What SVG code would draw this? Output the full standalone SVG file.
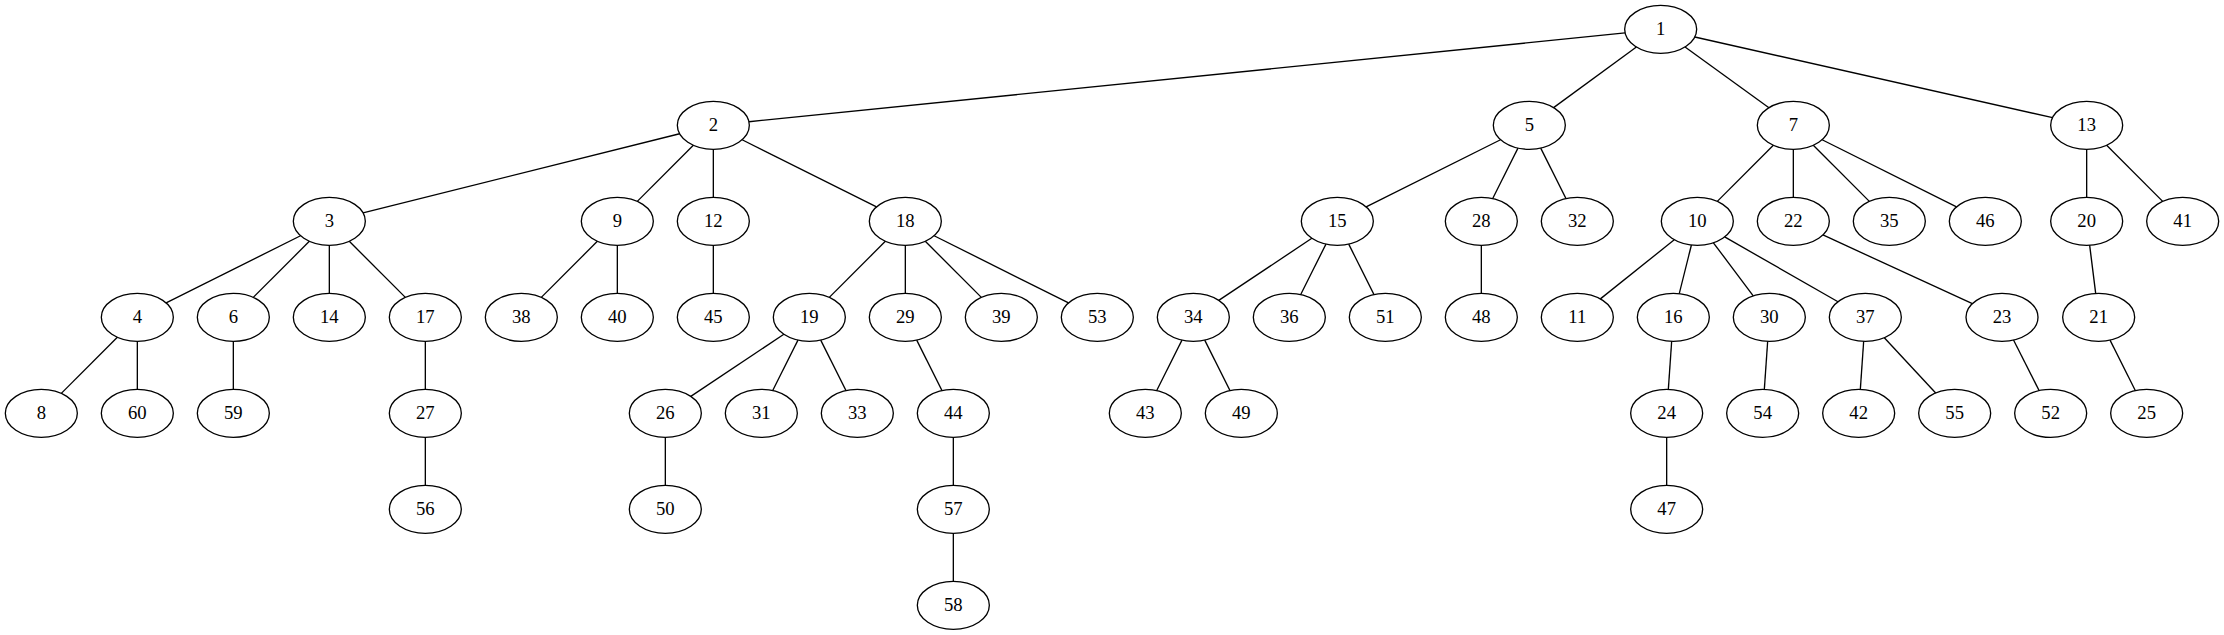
<svg xmlns="http://www.w3.org/2000/svg" width="2224" height="635" viewBox="0 0 2224 635">
<style>
.n ellipse{fill:none;stroke:#000;stroke-width:1.33}
.n text{font-family:"Liberation Serif","Times New Roman",serif;font-size:18.67px;text-anchor:middle;fill:#000}
#edges line{stroke:#000;stroke-width:1.33;fill:none}
</style>
<rect x="0" y="0" width="2224" height="635" fill="#fff"/>
<g id="edges">
<line x1="1625.08" y1="32.94" x2="748.92" y2="121.73"/>
<line x1="1636.41" y1="47.06" x2="1553.59" y2="107.6"/>
<line x1="1685.06" y1="46.98" x2="1768.94" y2="107.68"/>
<line x1="1694.77" y1="37.02" x2="2052.57" y2="117.64"/>
<line x1="679.62" y1="133.76" x2="363.04" y2="212.9"/>
<line x1="693.36" y1="145.3" x2="637.3" y2="201.36"/>
<line x1="713.33" y1="149.33" x2="713.33" y2="197.33"/>
<line x1="742.13" y1="139.73" x2="876.53" y2="206.93"/>
<line x1="300.53" y1="235.73" x2="166.13" y2="302.93"/>
<line x1="309.36" y1="241.3" x2="253.3" y2="297.36"/>
<line x1="329.33" y1="245.33" x2="329.33" y2="293.33"/>
<line x1="349.3" y1="241.3" x2="405.36" y2="297.36"/>
<line x1="117.36" y1="337.3" x2="61.3" y2="393.36"/>
<line x1="137.33" y1="341.33" x2="137.33" y2="389.33"/>
<line x1="233.33" y1="341.33" x2="233.33" y2="389.33"/>
<line x1="425.33" y1="341.33" x2="425.33" y2="389.33"/>
<line x1="425.33" y1="437.33" x2="425.33" y2="485.33"/>
<line x1="597.36" y1="241.3" x2="541.3" y2="297.36"/>
<line x1="617.33" y1="245.33" x2="617.33" y2="293.33"/>
<line x1="713.33" y1="245.33" x2="713.33" y2="293.33"/>
<line x1="885.36" y1="241.3" x2="829.3" y2="297.36"/>
<line x1="905.33" y1="245.33" x2="905.33" y2="293.33"/>
<line x1="925.3" y1="241.3" x2="981.36" y2="297.36"/>
<line x1="934.13" y1="235.73" x2="1068.53" y2="302.93"/>
<line x1="783.87" y1="334.3" x2="690.79" y2="396.36"/>
<line x1="797.95" y1="340.1" x2="772.71" y2="390.56"/>
<line x1="820.71" y1="340.1" x2="845.95" y2="390.56"/>
<line x1="665.33" y1="437.33" x2="665.33" y2="485.33"/>
<line x1="916.71" y1="340.1" x2="941.95" y2="390.56"/>
<line x1="953.33" y1="437.33" x2="953.33" y2="485.33"/>
<line x1="953.33" y1="533.33" x2="953.33" y2="581.33"/>
<line x1="1500.53" y1="139.73" x2="1366.13" y2="206.93"/>
<line x1="1517.95" y1="148.1" x2="1492.71" y2="198.56"/>
<line x1="1540.71" y1="148.1" x2="1565.95" y2="198.56"/>
<line x1="1311.87" y1="238.3" x2="1218.79" y2="300.36"/>
<line x1="1325.95" y1="244.1" x2="1300.71" y2="294.56"/>
<line x1="1348.71" y1="244.1" x2="1373.95" y2="294.56"/>
<line x1="1181.95" y1="340.1" x2="1156.71" y2="390.56"/>
<line x1="1204.71" y1="340.1" x2="1229.95" y2="390.56"/>
<line x1="1481.33" y1="245.33" x2="1481.33" y2="293.33"/>
<line x1="1773.36" y1="145.3" x2="1717.3" y2="201.36"/>
<line x1="1793.33" y1="149.33" x2="1793.33" y2="197.33"/>
<line x1="1813.3" y1="145.3" x2="1869.36" y2="201.36"/>
<line x1="1822.13" y1="139.73" x2="1956.53" y2="206.93"/>
<line x1="1674.28" y1="239.77" x2="1600.38" y2="298.89"/>
<line x1="1691.41" y1="245" x2="1679.25" y2="293.66"/>
<line x1="1713.43" y1="242.8" x2="1753.23" y2="295.86"/>
<line x1="1724.66" y1="236.95" x2="1838" y2="301.71"/>
<line x1="1671.67" y1="341.3" x2="1668.33" y2="389.36"/>
<line x1="1666.67" y1="437.33" x2="1666.67" y2="485.33"/>
<line x1="1767.67" y1="341.3" x2="1764.33" y2="389.36"/>
<line x1="1863.67" y1="341.3" x2="1860.33" y2="389.36"/>
<line x1="1884.31" y1="337.72" x2="1935.69" y2="392.94"/>
<line x1="1822.96" y1="234.96" x2="1972.37" y2="303.7"/>
<line x1="2013.53" y1="340.07" x2="2039.14" y2="390.59"/>
<line x1="2086.67" y1="149.33" x2="2086.67" y2="197.33"/>
<line x1="2106.64" y1="145.3" x2="2162.7" y2="201.36"/>
<line x1="2089.66" y1="245.25" x2="2095.68" y2="293.41"/>
<line x1="2110.05" y1="340.1" x2="2135.29" y2="390.56"/>
</g>
<g id="node1" class="n"><ellipse cx="1660.67" cy="29.33" rx="36" ry="24"/><text x="1660.67" y="34.93">1</text></g>
<g id="node2" class="n"><ellipse cx="713.33" cy="125.33" rx="36" ry="24"/><text x="713.33" y="130.93">2</text></g>
<g id="node5" class="n"><ellipse cx="1529.33" cy="125.33" rx="36" ry="24"/><text x="1529.33" y="130.93">5</text></g>
<g id="node7" class="n"><ellipse cx="1793.33" cy="125.33" rx="36" ry="24"/><text x="1793.33" y="130.93">7</text></g>
<g id="node13" class="n"><ellipse cx="2086.67" cy="125.33" rx="36" ry="24"/><text x="2086.67" y="130.93">13</text></g>
<g id="node3" class="n"><ellipse cx="329.33" cy="221.33" rx="36" ry="24"/><text x="329.33" y="226.93">3</text></g>
<g id="node9" class="n"><ellipse cx="617.33" cy="221.33" rx="36" ry="24"/><text x="617.33" y="226.93">9</text></g>
<g id="node12" class="n"><ellipse cx="713.33" cy="221.33" rx="36" ry="24"/><text x="713.33" y="226.93">12</text></g>
<g id="node18" class="n"><ellipse cx="905.33" cy="221.33" rx="36" ry="24"/><text x="905.33" y="226.93">18</text></g>
<g id="node15" class="n"><ellipse cx="1337.33" cy="221.33" rx="36" ry="24"/><text x="1337.33" y="226.93">15</text></g>
<g id="node28" class="n"><ellipse cx="1481.33" cy="221.33" rx="36" ry="24"/><text x="1481.33" y="226.93">28</text></g>
<g id="node32" class="n"><ellipse cx="1577.33" cy="221.33" rx="36" ry="24"/><text x="1577.33" y="226.93">32</text></g>
<g id="node10" class="n"><ellipse cx="1697.33" cy="221.33" rx="36" ry="24"/><text x="1697.33" y="226.93">10</text></g>
<g id="node22" class="n"><ellipse cx="1793.33" cy="221.33" rx="36" ry="24"/><text x="1793.33" y="226.93">22</text></g>
<g id="node35" class="n"><ellipse cx="1889.33" cy="221.33" rx="36" ry="24"/><text x="1889.33" y="226.93">35</text></g>
<g id="node46" class="n"><ellipse cx="1985.33" cy="221.33" rx="36" ry="24"/><text x="1985.33" y="226.93">46</text></g>
<g id="node20" class="n"><ellipse cx="2086.67" cy="221.33" rx="36" ry="24"/><text x="2086.67" y="226.93">20</text></g>
<g id="node41" class="n"><ellipse cx="2182.67" cy="221.33" rx="36" ry="24"/><text x="2182.67" y="226.93">41</text></g>
<g id="node4" class="n"><ellipse cx="137.33" cy="317.33" rx="36" ry="24"/><text x="137.33" y="322.93">4</text></g>
<g id="node6" class="n"><ellipse cx="233.33" cy="317.33" rx="36" ry="24"/><text x="233.33" y="322.93">6</text></g>
<g id="node14" class="n"><ellipse cx="329.33" cy="317.33" rx="36" ry="24"/><text x="329.33" y="322.93">14</text></g>
<g id="node17" class="n"><ellipse cx="425.33" cy="317.33" rx="36" ry="24"/><text x="425.33" y="322.93">17</text></g>
<g id="node38" class="n"><ellipse cx="521.33" cy="317.33" rx="36" ry="24"/><text x="521.33" y="322.93">38</text></g>
<g id="node40" class="n"><ellipse cx="617.33" cy="317.33" rx="36" ry="24"/><text x="617.33" y="322.93">40</text></g>
<g id="node45" class="n"><ellipse cx="713.33" cy="317.33" rx="36" ry="24"/><text x="713.33" y="322.93">45</text></g>
<g id="node19" class="n"><ellipse cx="809.33" cy="317.33" rx="36" ry="24"/><text x="809.33" y="322.93">19</text></g>
<g id="node29" class="n"><ellipse cx="905.33" cy="317.33" rx="36" ry="24"/><text x="905.33" y="322.93">29</text></g>
<g id="node39" class="n"><ellipse cx="1001.33" cy="317.33" rx="36" ry="24"/><text x="1001.33" y="322.93">39</text></g>
<g id="node53" class="n"><ellipse cx="1097.33" cy="317.33" rx="36" ry="24"/><text x="1097.33" y="322.93">53</text></g>
<g id="node34" class="n"><ellipse cx="1193.33" cy="317.33" rx="36" ry="24"/><text x="1193.33" y="322.93">34</text></g>
<g id="node36" class="n"><ellipse cx="1289.33" cy="317.33" rx="36" ry="24"/><text x="1289.33" y="322.93">36</text></g>
<g id="node51" class="n"><ellipse cx="1385.33" cy="317.33" rx="36" ry="24"/><text x="1385.33" y="322.93">51</text></g>
<g id="node48" class="n"><ellipse cx="1481.33" cy="317.33" rx="36" ry="24"/><text x="1481.33" y="322.93">48</text></g>
<g id="node11" class="n"><ellipse cx="1577.33" cy="317.33" rx="36" ry="24"/><text x="1577.33" y="322.93">11</text></g>
<g id="node16" class="n"><ellipse cx="1673.33" cy="317.33" rx="36" ry="24"/><text x="1673.33" y="322.93">16</text></g>
<g id="node30" class="n"><ellipse cx="1769.33" cy="317.33" rx="36" ry="24"/><text x="1769.33" y="322.93">30</text></g>
<g id="node37" class="n"><ellipse cx="1865.33" cy="317.33" rx="36" ry="24"/><text x="1865.33" y="322.93">37</text></g>
<g id="node23" class="n"><ellipse cx="2002" cy="317.33" rx="36" ry="24"/><text x="2002" y="322.93">23</text></g>
<g id="node21" class="n"><ellipse cx="2098.67" cy="317.33" rx="36" ry="24"/><text x="2098.67" y="322.93">21</text></g>
<g id="node8" class="n"><ellipse cx="41.33" cy="413.33" rx="36" ry="24"/><text x="41.33" y="418.93">8</text></g>
<g id="node60" class="n"><ellipse cx="137.33" cy="413.33" rx="36" ry="24"/><text x="137.33" y="418.93">60</text></g>
<g id="node59" class="n"><ellipse cx="233.33" cy="413.33" rx="36" ry="24"/><text x="233.33" y="418.93">59</text></g>
<g id="node27" class="n"><ellipse cx="425.33" cy="413.33" rx="36" ry="24"/><text x="425.33" y="418.93">27</text></g>
<g id="node26" class="n"><ellipse cx="665.33" cy="413.33" rx="36" ry="24"/><text x="665.33" y="418.93">26</text></g>
<g id="node31" class="n"><ellipse cx="761.33" cy="413.33" rx="36" ry="24"/><text x="761.33" y="418.93">31</text></g>
<g id="node33" class="n"><ellipse cx="857.33" cy="413.33" rx="36" ry="24"/><text x="857.33" y="418.93">33</text></g>
<g id="node44" class="n"><ellipse cx="953.33" cy="413.33" rx="36" ry="24"/><text x="953.33" y="418.93">44</text></g>
<g id="node43" class="n"><ellipse cx="1145.33" cy="413.33" rx="36" ry="24"/><text x="1145.33" y="418.93">43</text></g>
<g id="node49" class="n"><ellipse cx="1241.33" cy="413.33" rx="36" ry="24"/><text x="1241.33" y="418.93">49</text></g>
<g id="node24" class="n"><ellipse cx="1666.67" cy="413.33" rx="36" ry="24"/><text x="1666.67" y="418.93">24</text></g>
<g id="node54" class="n"><ellipse cx="1762.67" cy="413.33" rx="36" ry="24"/><text x="1762.67" y="418.93">54</text></g>
<g id="node42" class="n"><ellipse cx="1858.67" cy="413.33" rx="36" ry="24"/><text x="1858.67" y="418.93">42</text></g>
<g id="node55" class="n"><ellipse cx="1954.67" cy="413.33" rx="36" ry="24"/><text x="1954.67" y="418.93">55</text></g>
<g id="node52" class="n"><ellipse cx="2050.67" cy="413.33" rx="36" ry="24"/><text x="2050.67" y="418.93">52</text></g>
<g id="node25" class="n"><ellipse cx="2146.67" cy="413.33" rx="36" ry="24"/><text x="2146.67" y="418.93">25</text></g>
<g id="node56" class="n"><ellipse cx="425.33" cy="509.33" rx="36" ry="24"/><text x="425.33" y="514.93">56</text></g>
<g id="node50" class="n"><ellipse cx="665.33" cy="509.33" rx="36" ry="24"/><text x="665.33" y="514.93">50</text></g>
<g id="node57" class="n"><ellipse cx="953.33" cy="509.33" rx="36" ry="24"/><text x="953.33" y="514.93">57</text></g>
<g id="node47" class="n"><ellipse cx="1666.67" cy="509.33" rx="36" ry="24"/><text x="1666.67" y="514.93">47</text></g>
<g id="node58" class="n"><ellipse cx="953.33" cy="605.33" rx="36" ry="24"/><text x="953.33" y="610.93">58</text></g>
</svg>
